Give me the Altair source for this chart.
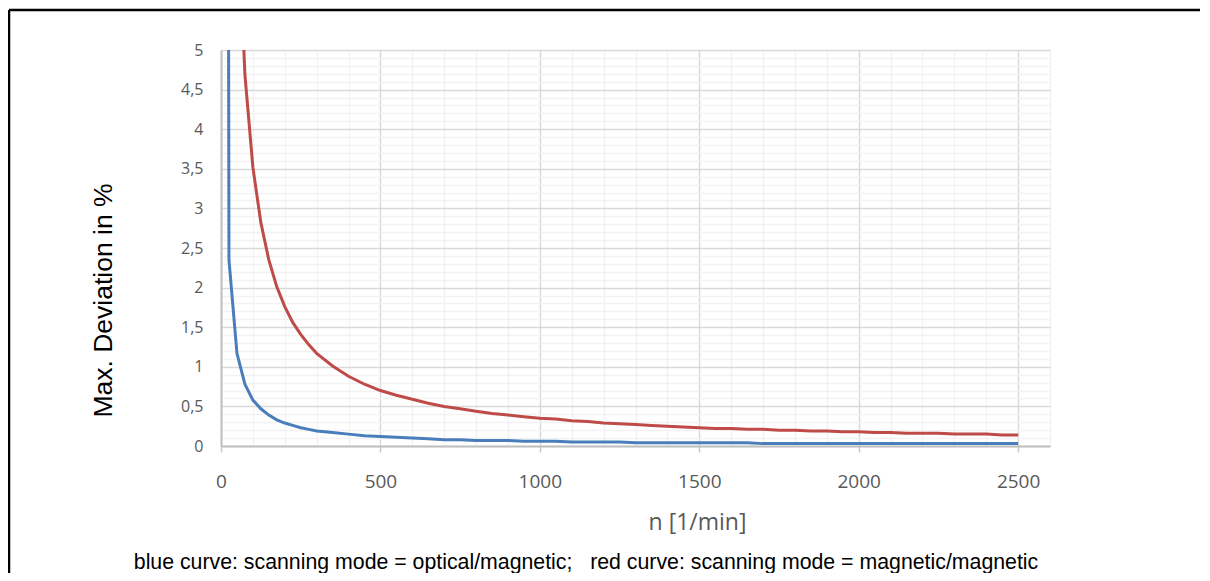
import altair as alt
import pandas as pd

# rotational speed n [1/min]
n_values = [1, 25, 50, 75, 100, 125, 150, 175, 200, 225, 250, 275, 300,
            350, 400, 450, 500, 550, 600, 650, 700, 750, 800, 850, 900, 950,
            1000, 1050, 1100, 1150, 1200, 1250, 1300, 1350, 1400, 1450, 1500,
            1550, 1600, 1650, 1700, 1750, 1800, 1850, 1900, 1950, 2000, 2050,
            2100, 2150, 2200, 2250, 2300, 2350, 2400, 2450, 2500]

# blue curve: optical/magnetic
blue_values = [58.5, 2.35, 1.17, 0.78, 0.58, 0.47, 0.39, 0.33, 0.29, 0.26, 0.23, 0.21, 0.19,
               0.17, 0.15, 0.13, 0.12, 0.11, 0.10, 0.09, 0.08, 0.08, 0.07, 0.07, 0.07, 0.06,
               0.06, 0.06, 0.05, 0.05, 0.05, 0.05, 0.04, 0.04, 0.04, 0.04, 0.04,
               0.04, 0.04, 0.04, 0.03, 0.03, 0.03, 0.03, 0.03, 0.03, 0.03, 0.03,
               0.03, 0.03, 0.03, 0.03, 0.03, 0.03, 0.03, 0.03, 0.03]

# red curve: magnetic/magnetic
red_values = [352.0, 14.08, 7.04, 4.69, 3.52, 2.82, 2.35, 2.01, 1.76, 1.56, 1.41, 1.28, 1.17,
              1.01, 0.88, 0.78, 0.70, 0.64, 0.59, 0.54, 0.50, 0.47, 0.44, 0.41, 0.39, 0.37,
              0.35, 0.34, 0.32, 0.31, 0.29, 0.28, 0.27, 0.26, 0.25, 0.24, 0.23,
              0.22, 0.22, 0.21, 0.21, 0.20, 0.20, 0.19, 0.19, 0.18, 0.18, 0.17,
              0.17, 0.16, 0.16, 0.16, 0.15, 0.15, 0.15, 0.14, 0.14]

series_names = ["blue", "red"]
series_colors = ["#4a7ebb", "#be4b48"]

x_ticks = [i * 100 for i in range(27)]
y_ticks = [round(i * 0.1, 1) for i in range(51)]

caption = "blue curve: scanning mode = optical/magnetic;\u00a0\u00a0\u00a0red curve: scanning mode = magnetic/magnetic"

rows = []
for n, b, r in zip(n_values, blue_values, red_values):
    rows.append({"n": n, "value": b, "series": "blue"})
    rows.append({"n": n, "value": r, "series": "red"})
df = pd.DataFrame(rows)

W, H = 829, 396
label_font = "Open Sans"
grey = "#595959"

x_major = "datum.value % 500 === 0"
y_major = "abs(datum.value*2 - round(datum.value*2)) < 0.001"

x_axis = alt.Axis(
    values=x_ticks,
    labelExpr=f"{x_major} ? datum.label : ''",
    format="d",
    labelFont=label_font, labelFontSize=19, labelColor=grey,
    labelPadding=20, labelOverlap=False, labelFlush=False,
    grid=True,
    gridColor={"condition": {"test": x_major, "value": "#d9d9d9"}, "value": "#f2f2f2"},
    gridWidth=1.5,
    ticks=True, tickSize=6, tickWidth=1.5,
    tickColor={"condition": {"test": x_major, "value": "#c8c8c8"}, "value": "rgba(0,0,0,0)"},
    domainColor="#bfbfbf", domainWidth=2,
    title="n [1/min]", titleFont=label_font, titleFontSize=23, titleFontWeight="normal",
    titleColor=grey, titleX=476, titleY=76, titleAlign="center", titleBaseline="middle",
)

y_axis = alt.Axis(
    values=y_ticks,
    labelExpr=f"{y_major} ? replace(format(datum.value, '~g'), '.', ',') : ''",
    labelFont=label_font, labelFontSize=16, labelColor=grey,
    labelPadding=18, labelOverlap=False, labelFlush=False,
    grid=True,
    gridColor={"condition": {"test": y_major, "value": "#d9d9d9"}, "value": "#f2f2f2"},
    gridWidth=1.5,
    ticks=False,
    domainColor="#bfbfbf", domainWidth=2,
    title="Max. Deviation in %", titleFont="Liberation Sans", titleFontSize=26.5,
    titleFontWeight="normal", titleColor="#000000",
    titleX=-118, titleY=250, titleAngle=270, titleAlign="center", titleBaseline="middle",
)

lines = alt.Chart(df).mark_line(strokeWidth=3, clip=True).encode(
    x=alt.X("n:Q", scale=alt.Scale(domain=[0, 2600], nice=False, zero=False), axis=x_axis),
    y=alt.Y("value:Q", scale=alt.Scale(domain=[0, 5], nice=False), axis=y_axis),
    color=alt.Color("series:N", scale=alt.Scale(domain=series_names, range=series_colors), legend=None),
    order=alt.Order("n:Q"),
)

caption_text = alt.Chart(pd.DataFrame({"t": [caption]})).mark_text(
    font="Liberation Sans", fontSize=21.3, color="#000000", align="center", baseline="alphabetic"
).encode(text="t:N", x=alt.value(365), y=alt.value(519))

border_top = alt.Chart(pd.DataFrame({"a": [0]})).mark_rule(color="#000000", strokeWidth=2.5).encode(
    x=alt.value(-212), x2=alt.value(979), y=alt.value(-40)
)
border_left = alt.Chart(pd.DataFrame({"a": [0]})).mark_rule(color="#000000", strokeWidth=2.5).encode(
    x=alt.value(-212), y=alt.value(-40), y2=alt.value(530)
)

chart = alt.layer(lines, caption_text, border_top, border_left).properties(
    width=W, height=H,
    autosize=alt.AutoSizeParams(type="none"),
    padding={"left": 213, "top": 42, "right": 152, "bottom": 127},
).configure_view(stroke=None).configure(background="white")

chart.save("out.html", embed_options={"renderer": "svg", "actions": False})
